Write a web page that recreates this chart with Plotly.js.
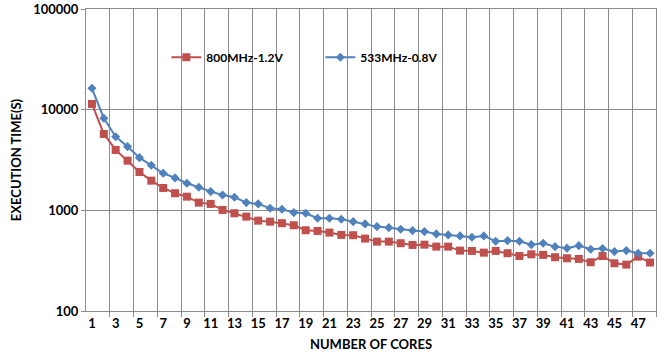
<!DOCTYPE html>
<html>
<head>
<meta charset="utf-8">
<script src="https://cdn.plot.ly/plotly-3.0.1.min.js"></script>
<style>html,body{margin:0;padding:0;background:#fff;}#chart{width:670px;height:358px;}</style>
</head>
<body>
<div id="chart"></div>
<script>
const cores = Array.from({length: 48}, (_, i) => i + 1);
const seriesNames = ["800MHz-1.2V", "533MHz-0.8V"];
const time800 = [11400, 5735, 3980, 3118, 2405, 1972, 1668, 1478, 1367, 1193, 1158, 1009, 935, 866, 790,
  772, 745, 711, 634, 624, 601, 570, 566, 524, 489, 489, 471, 453, 456, 436, 436, 398,
  395, 380, 395, 375, 352, 366, 361, 342, 334, 329, 305, 352, 298, 289, 347, 303];
const time533 = [16300, 8220, 5390, 4295, 3337, 2805, 2334, 2100, 1858, 1696, 1535, 1422, 1349, 1194, 1158,
  1050, 1025, 949, 936, 834, 834, 816, 772, 733, 689, 673, 649, 629, 615, 583, 570,
  557, 541, 557, 493, 500, 493, 456, 471, 436, 421, 446, 411, 417, 389, 398, 375, 375];
const xTickVals = cores.filter(c => c % 2 === 1);
const xGridVals = cores.filter(c => c % 2 === 0).map(c => c + 0.5);
const yTickVals = [100, 1000, 10000, 100000];
const yTickText = ["100", "1000", "10000", "100000"];

const FONT = "Lato, 'Open Sans', sans-serif";
const grid = "#8c8c8c";

const traces = [
  {x: cores, y: time800, name: seriesNames[0], type: "scatter", mode: "lines+markers",
   line: {color: "#C0504D", width: 2}, marker: {symbol: "square", size: 8, color: "#C0504D"}},
  {x: cores, y: time533, name: seriesNames[1], type: "scatter", mode: "lines+markers",
   line: {color: "#4F81BD", width: 2}, marker: {symbol: "diamond", size: 7, color: "#4F81BD"}}
];

const layout = {
  width: 670, height: 358,
  margin: {l: 86, r: 14, t: 9, b: 47},
  paper_bgcolor: "#fff", plot_bgcolor: "#fff",
  font: {family: FONT, size: 13, color: "#000", weight: "bold"},
  showlegend: true,
  legend: {orientation: "h", x: 0.141, xanchor: "left", y: 0.84, yanchor: "middle",
    bgcolor: "rgba(0,0,0,0)", entrywidth: 109, entrywidthmode: "pixels",
    font: {family: FONT, size: 12, color: "#000", weight: "bold"}},
  xaxis: {range: [0.5, 48.5], tickmode: "array", tickvals: xTickVals, ticktext: xTickVals.map(String),
    showgrid: false, ticks: "", zeroline: false, showline: true, linecolor: grid, linewidth: 1, mirror: true,
    tickfont: {family: FONT, size: 13, weight: "bold"},
    minor: {tickmode: "array", tickvals: xGridVals, showgrid: true, gridcolor: grid, gridwidth: 1,
      ticks: "outside", ticklen: 5, tickcolor: grid},
    title: {text: "NUMBER OF CORES", font: {family: FONT, size: 13, weight: "bold"}, standoff: 10}},
  yaxis: {type: "log", range: [2, 5], tickmode: "array", tickvals: yTickVals, ticktext: yTickText,
    showgrid: true, gridcolor: grid, gridwidth: 1, ticks: "outside", ticklen: 4, tickcolor: grid,
    showline: true, linecolor: grid, linewidth: 1, mirror: true, zeroline: false,
    tickfont: {family: FONT, size: 13, weight: "bold"},
    title: {text: "EXECUTION TIME(S)", font: {family: FONT, size: 13, weight: "bold"}, standoff: 8}}
};

Plotly.newPlot("chart", traces, layout, {displayModeBar: false, staticPlot: true});
</script>
</body>
</html>
